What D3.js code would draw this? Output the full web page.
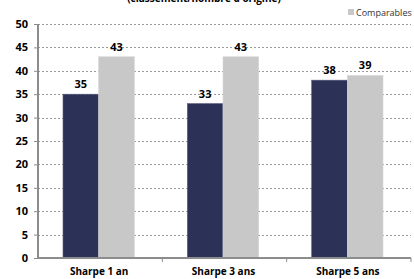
<!DOCTYPE html>
<html><head><meta charset="utf-8">
<script src="https://cdn.jsdelivr.net/npm/d3@7/dist/d3.min.js"></script>
<style>body{margin:0;background:#fff}svg{display:block}</style>
</head><body>
<script>
const categories = ["Sharpe 1 an", "Sharpe 3 ans", "Sharpe 5 ans"];
const fundValues = [35, 33, 38];
const compValues = [43, 43, 39];
const yTicks = [0, 5, 10, 15, 20, 25, 30, 35, 40, 45, 50];
const seriesNames = ["Fonds", "Comparables"];
const titleText = "(classement/nombre d'origine)";

const W = 414, H = 279;
const svg = d3.select("body").append("svg").attr("width", W).attr("height", H);
const font = "'Open Sans', 'DejaVu Sans', sans-serif";
const x0 = d3.scaleBand().domain(categories).range([38, 411]).paddingInner(0).paddingOuter(0);
const y = d3.scaleLinear().domain([0, 50]).range([258, 24]);
const x1 = d3.scaleBand().domain([0, 1]).range([25, x0.bandwidth() - 28]).padding(0);

// title (cut off)
svg.append("text").attr("x", 204).attr("y", 2).attr("text-anchor", "middle")
  .attr("font-family", font).attr("font-weight", "bold").attr("font-size", 10).text(titleText);

// gridlines
svg.append("g").selectAll("line").data(yTicks.filter(d => d > 0)).join("line")
  .attr("x1", 38).attr("x2", 411).attr("y1", d => Math.round(y(d)) + 0.5).attr("y2", d => Math.round(y(d)) + 0.5)
  .attr("stroke", "#9a9a9a").attr("stroke-width", 1).attr("stroke-dasharray", "2,2");

// y axis
const ya = svg.append("g").attr("transform", "translate(38,0)")
  .call(d3.axisLeft(y).tickValues(yTicks).tickSize(4).tickPadding(6));
ya.select(".domain").attr("stroke", "#8c8c8c").attr("stroke-width", 2).attr("d", `M0,${y(50)}V${y(0)}`);
ya.selectAll(".tick line").attr("stroke", "#8c8c8c");
ya.selectAll("text").attr("font-family", font).attr("font-weight", "bold").attr("font-size", 11).attr("fill", "#000");

// bars
const g = svg.append("g");
categories.forEach((c, i) => {
  const vals = [fundValues[i], compValues[i]];
  const colors = ["#2c3257", "#c8c8c8"];
  vals.forEach((v, j) => {
    g.append("rect").attr("x", x0(c) + x1(j)).attr("y", y(v)).attr("width", x1.bandwidth())
      .attr("height", y(0) - y(v)).attr("fill", colors[j]).attr("stroke", j === 0 ? "#5a5f80" : "#d6d6d6").attr("stroke-width", 0.6);
    g.append("text").attr("x", x0(c) + x1(j) + x1.bandwidth() / 2).attr("y", y(v) - 6)
      .attr("text-anchor", "middle").attr("font-family", font).attr("font-weight", "bold")
      .attr("font-size", 11).text(v);
  });
});

// x axis
const xa = svg.append("g").attr("transform", `translate(0,${y(0)})`);
xa.append("line").attr("x1", 37).attr("x2", 411).attr("y1", 0).attr("y2", 0).attr("stroke", "#8c8c8c").attr("stroke-width", 2);
xa.selectAll("line.tk").data([1, 2, 3]).join("line").attr("class", "tk")
  .attr("x1", (d, i) => x0(categories[i]) !== undefined ? (i < 3 ? (x0(categories[i]) + x0.bandwidth()) : 0) : 0)
  .attr("x2", (d, i) => x0(categories[i]) + x0.bandwidth())
  .attr("y1", 0).attr("y2", 4).attr("stroke", "#8c8c8c");
xa.selectAll("text").data(categories).join("text")
  .attr("x", d => x0(d) + x0.bandwidth() / 2 - 1).attr("y", 17).attr("text-anchor", "middle")
  .attr("font-family", font).attr("font-weight", "bold").attr("font-size", 10).text(d => d);

// legend
svg.append("rect").attr("x", 348).attr("y", 9).attr("width", 6).attr("height", 6).attr("fill", "#c8c8c8");
svg.append("text").attr("x", 356).attr("y", 15.5).attr("font-family", font).attr("font-size", 9).attr("fill", "#333").text(seriesNames[1]);
</script>
</body></html>
